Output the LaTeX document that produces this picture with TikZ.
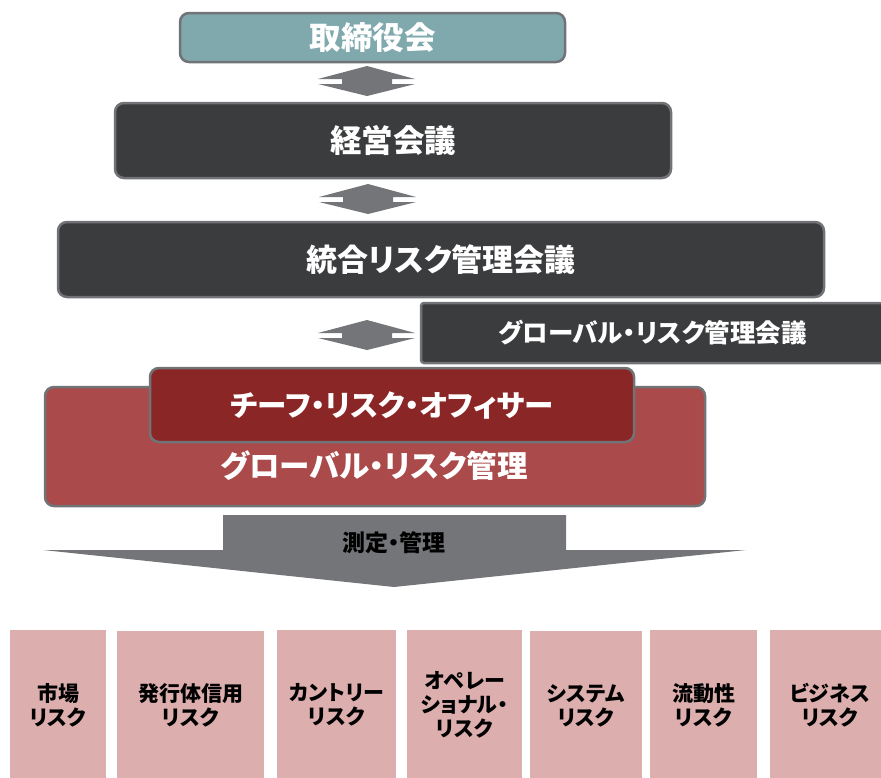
\documentclass[tikz,border=0pt]{standalone}
\usepackage{fontspec}
\setmainfont{Noto Sans CJK JP}[RawFeature=+palt]
\definecolor{teal1}{HTML}{7FA9AC}
\definecolor{darkbox}{HTML}{3B3C3E}
\definecolor{bordergray}{HTML}{717376}
\definecolor{redouter}{HTML}{AA4A4A}
\definecolor{redinner}{HTML}{8B2627}
\definecolor{pinkbox}{HTML}{DCAEAE}
\definecolor{arrgray}{HTML}{737578}
\tikzset{
  topbox/.style={draw=bordergray, line width=2.5pt, rounded corners=9pt, inner sep=0pt, text=white, font=\bfseries},
  riskbox/.style={fill=pinkbox, inner sep=0pt, align=center, font=\bfseries\fontsize{21}{24}\selectfont},
  dblarrow/.pic={\fill[arrgray] (-49,-2.5) -- (0,-15.5) -- (48,-2.5) -- (25,-2.5) -- (25,2.5) -- (48,2.5) -- (0,14.5) -- (-49,2.5) -- (-25,2.5) -- (-25,-2.5) -- cycle;}
}
\begin{document}
\begin{tikzpicture}[x=1pt,y=-1pt]
\useasboundingbox (0,0) rectangle (881,777);
% top boxes
\node[topbox, fill=teal1, minimum width=385pt, minimum height=49pt, font=\bfseries\fontsize{31.5}{31.5}\selectfont] (tori) at (372.5,37.5) {取締役会};
\node[topbox, fill=darkbox, minimum width=556pt, minimum height=75pt, font=\bfseries\fontsize{31.5}{31.5}\selectfont] (keiei) at (393,140.5) {経営会議};
\node[topbox, fill=darkbox, minimum width=766pt, minimum height=75pt, font=\bfseries\fontsize{31}{31}\selectfont] (togo) at (441,259.5) {統合リスク管理会議};
\node[topbox, rounded corners=3pt, fill=darkbox, minimum width=463pt, minimum height=60pt, font=\bfseries\fontsize{25.5}{25.5}\selectfont] (grmk) at (652.5,333) {グローバル・リスク管理会議};
% double arrows
\pic at (367,81.5) {dblarrow};
\pic at (368,199.5) {dblarrow};
\pic at (367,335.5) {dblarrow};
% red boxes
\node[topbox, fill=redouter, minimum width=660pt, minimum height=119pt] (grm) at (375,446.5) {};
\node[text=white, font=\bfseries\fontsize{30.5}{30.5}\selectfont] (grmt) at (374,466) {グローバル・リスク管理};
\node[topbox, fill=redinner, minimum width=484pt, minimum height=74pt, font=\bfseries\fontsize{29.5}{29.5}\selectfont] (cro) at (392,405) {チーフ・リスク・オフィサー};
% big arrow
\fill[arrgray] (223,515) -- (566,515) -- (566,550) -- (746,550) -- (394,587) -- (43,550) -- (223,550) -- cycle;
\node[font=\bfseries\fontsize{23}{23}\selectfont] (sokutei) at (394,543) {測定・管理};
% risk boxes
\node[riskbox, minimum width=96pt, minimum height=150pt] (r1) at (58,705) {市場\\リスク};
\node[riskbox, minimum width=147pt, minimum height=150pt] (r2) at (190.5,705.5) {発行体信用\\リスク};
\node[riskbox, minimum width=119pt, minimum height=150pt] (r3) at (336.5,705) {カントリー\\リスク};
\node[riskbox, minimum width=115pt, minimum height=150pt] (r4) at (464.5,705) {オペレー\\ショナル・\\リスク};
\node[riskbox, minimum width=112pt, minimum height=150pt] (r5) at (586,705.5) {システム\\リスク};
\node[riskbox, minimum width=107pt, minimum height=150pt] (r6) at (703.5,705) {流動性\\リスク};
\node[riskbox, minimum width=120pt, minimum height=150pt] (r7) at (830,705) {ビジネス\\リスク};
\end{tikzpicture}
\end{document}
